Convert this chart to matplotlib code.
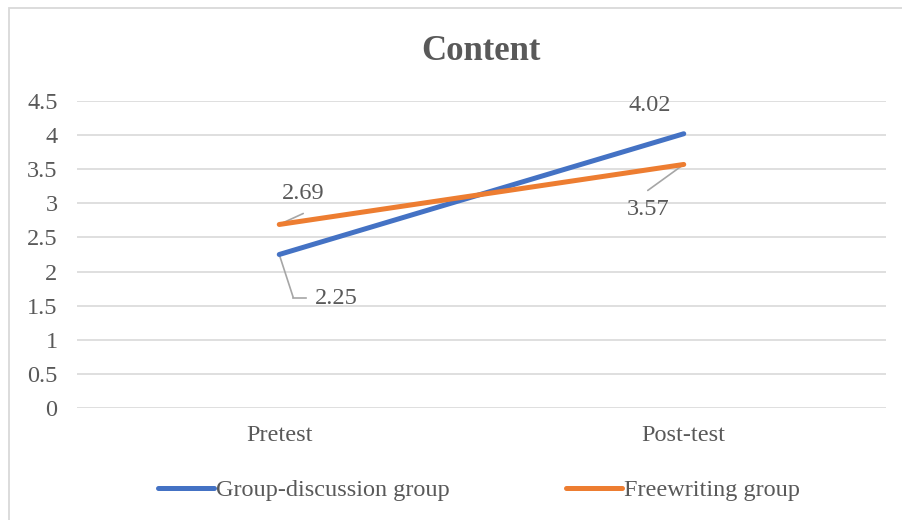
import matplotlib
matplotlib.use("Agg")
import matplotlib.pyplot as plt
from matplotlib.patches import Rectangle
from matplotlib.lines import Line2D

categories = ["Pretest", "Post-test"]
group_discussion = [2.25, 4.02]
freewriting = [2.69, 3.57]
series_names = ["Group-discussion group", "Freewriting group"]
y_ticks = [0, 0.5, 1, 1.5, 2, 2.5, 3, 3.5, 4, 4.5]
y_tick_labels = ["0", "0.5", "1", "1.5", "2", "2.5", "3", "3.5", "4", "4.5"]

BLUE = "#4472C4"
ORANGE = "#ED7D31"
TXT = "#595959"
GRID = "#D9D9D9"
LEAD = "#A6A6A6"
FS = 17.5

plt.rcParams["font.family"] = ["Liberation Serif", "DejaVu Serif"]

fig = plt.figure(figsize=(9.03, 5.2), dpi=100)
fig.patch.set_facecolor("white")
ax = fig.add_axes([77/903, 1-408/520, (886-77)/903, (408-101)/520])

x = list(range(len(categories)))
l1, = ax.plot(x, group_discussion, color=BLUE, lw=3.6, solid_capstyle="round", zorder=3,
              label=series_names[0])
l2, = ax.plot(x, freewriting, color=ORANGE, lw=3.6, solid_capstyle="round", zorder=4,
              label=series_names[1])

ax.set_xlim(-0.5, 1.5)
ax.set_ylim(0, 4.5)
ax.set_yticks(y_ticks)
ax.set_yticklabels(y_tick_labels)
ax.set_xticks(x)
ax.set_xticklabels(categories)
ax.tick_params(axis="both", length=0, labelsize=FS, labelcolor=TXT)
ax.tick_params(axis="y", pad=14)
ax.tick_params(axis="x", pad=12)
ax.grid(axis="y", color=GRID, lw=1.2)
ax.set_axisbelow(True)
for s in ax.spines.values():
    s.set_visible(False)

leader = dict(arrowstyle="-", color=LEAD, lw=1.2, shrinkA=0, shrinkB=0)


def data_label(xi, yi, txt, text_off, lead_off=None):
    if lead_off is not None:
        ax.annotate("", xy=(xi, yi), xytext=lead_off, textcoords="offset pixels",
                    arrowprops=leader, zorder=2)
    ax.annotate(txt, xy=(xi, yi), xytext=text_off, textcoords="offset pixels",
                ha="center", va="center", fontsize=FS, color=TXT, zorder=6)


data_label(x[0], freewriting[0], f"{freewriting[0]:.2f}", (24, 31), (24, 11))
data_label(x[0], group_discussion[0], f"{group_discussion[0]:.2f}", (57, -44), (14, -43))
data_label(x[1], group_discussion[1], f"{group_discussion[1]:.2f}", (-34, 28))
data_label(x[1], freewriting[1], f"{freewriting[1]:.2f}", (-36, -45), (-36, -26))

# horizontal part of the 2.25 leader line
px, py = ax.transData.transform((x[0], group_discussion[0]))
fig.add_artist(Line2D([px + 14, px + 27], [py - 43, py - 43], transform=None,
                      color=LEAD, lw=1.2))

fig.text(481/903, 1 - 51/520, "Content", ha="center", va="center", fontsize=25,
         fontweight="bold", color=TXT)

fig.legend(handles=[l1, l2], loc="center", bbox_to_anchor=(479/903, 1 - 490/520),
           ncol=2, frameon=False, fontsize=FS, labelcolor=TXT, handlelength=2.3,
           handletextpad=0.1, columnspacing=4.75)

fig.add_artist(Rectangle((9/903, -0.1), 1.2, 1 - 8/520 + 0.1, transform=fig.transFigure,
                         fill=False, edgecolor=GRID, lw=1.3))

fig.savefig("out.png", dpi=100)
